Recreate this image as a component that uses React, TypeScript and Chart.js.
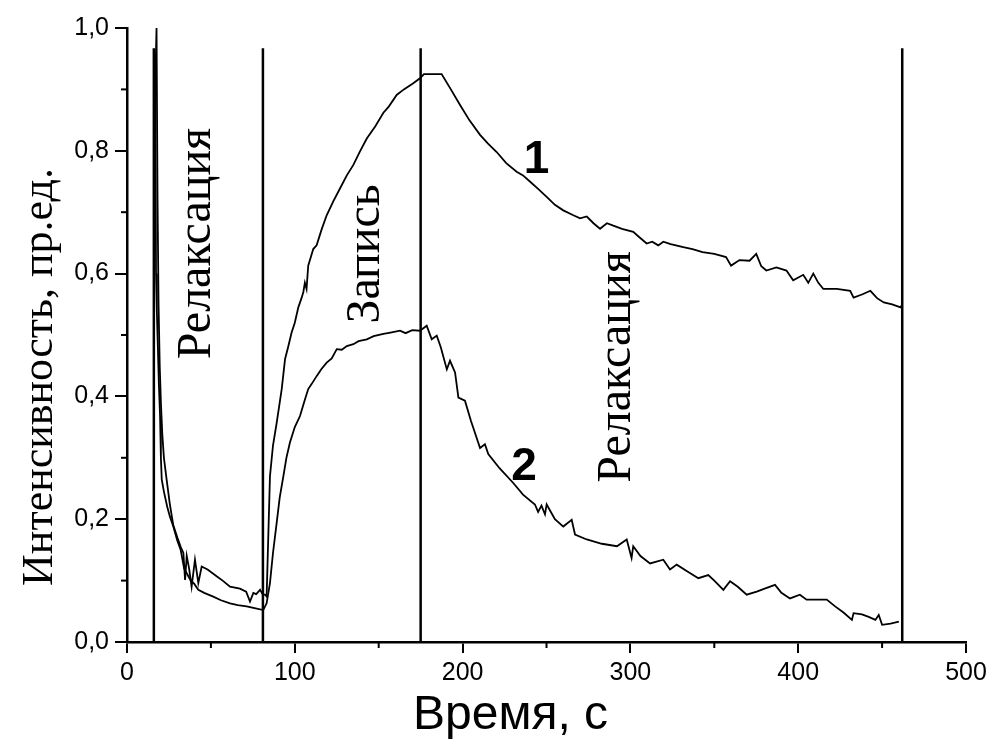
import React, { useEffect, useRef } from "react";
import { Chart, registerables } from "chart.js";

Chart.register(...registerables);

// Curve 1 (upper)
const curve1X = [17.0, 17.6, 18.2, 18.8, 19.5, 20.2, 21, 22, 23.6, 25.5, 27.6, 30, 32, 33.6, 34.6, 35.6, 37, 38.5, 40.5, 42.5, 44.5, 48, 53.4, 57, 61.4, 67.3, 71, 73.3, 75.3, 77, 79.3, 81, 82.2, 83.2, 85.2, 87, 89.2, 92.2, 94.2, 96, 98.1, 100, 102.1, 104, 105.1, 106, 107, 108, 111, 113, 116, 119, 123, 127, 131, 134.9, 139, 142.9, 148, 152.8, 156, 160.7, 165, 170.6, 174.6, 177, 187.5, 193, 198.4, 204, 210.4, 215, 220.3, 226, 232.2, 236, 240.1, 245, 250.1, 255, 260, 266, 270, 274, 278, 281.9, 286, 289.8, 295, 301.7, 305, 309.7, 313, 316.6, 319.6, 324, 331.5, 337, 343, 350, 357, 360, 365, 371, 375, 378, 381, 387, 393, 397, 403, 406, 409, 412, 415, 423, 431, 433, 438, 443, 447, 451, 456, 461, 462];
const curve1Y = [0.93, 1.0, 0.72, 0.55, 0.45, 0.39, 0.34, 0.3, 0.265, 0.225, 0.19, 0.17, 0.155, 0.145, 0.101, 0.14, 0.12, 0.09, 0.134, 0.096, 0.123, 0.118, 0.107, 0.1, 0.09, 0.087, 0.082, 0.066, 0.08, 0.078, 0.085, 0.077, 0.077, 0.074, 0.27, 0.32, 0.357, 0.412, 0.461, 0.48, 0.504, 0.52, 0.545, 0.56, 0.57, 0.585, 0.575, 0.613, 0.64, 0.646, 0.672, 0.695, 0.718, 0.739, 0.76, 0.777, 0.8, 0.82, 0.84, 0.862, 0.872, 0.891, 0.9, 0.91, 0.918, 0.925, 0.925, 0.9, 0.875, 0.85, 0.826, 0.812, 0.798, 0.78, 0.766, 0.76, 0.75, 0.738, 0.725, 0.712, 0.703, 0.695, 0.69, 0.693, 0.682, 0.673, 0.682, 0.678, 0.673, 0.668, 0.66, 0.649, 0.652, 0.646, 0.652, 0.648, 0.643, 0.64, 0.635, 0.632, 0.627, 0.613, 0.622, 0.621, 0.632, 0.612, 0.605, 0.61, 0.605, 0.589, 0.598, 0.585, 0.6, 0.585, 0.575, 0.575, 0.572, 0.561, 0.566, 0.572, 0.56, 0.553, 0.55, 0.545, 0.55];

// Curve 2 (lower)
const curve2X = [16.8, 17.3, 17.8, 18.4, 19.0, 19.7, 20.2, 20.7, 22, 24, 25.5, 27.6, 30, 32, 34, 36, 38, 40, 42.5, 46, 51.4, 56, 61.4, 66, 71.3, 76, 81.2, 83.2, 85.2, 87, 89.2, 91, 93.2, 95, 97.1, 100, 103.1, 105.5, 108, 110, 113, 116, 119, 122, 125, 128, 131, 134.9, 138, 142.9, 147, 152.8, 157, 162.7, 166, 170, 174.6, 178.6, 181.6, 184.6, 187, 190.6, 192.5, 195.5, 197.5, 201.4, 205, 210.4, 213.3, 215.3, 222, 230.2, 236, 243.1, 245, 247, 249.1, 250.1, 255, 260, 265, 267, 274, 283, 292, 297.8, 300.7, 301.7, 306, 311.7, 319.6, 323.6, 327.6, 334, 340.5, 346.4, 350, 355.4, 359.4, 364, 369.3, 375.3, 380, 386.2, 390, 395.1, 401, 405, 417, 422, 427, 432, 433, 438, 442, 446, 448, 450, 455, 460];
const curve2Y = [0.95, 0.6, 0.537, 0.48, 0.42, 0.368, 0.3, 0.265, 0.245, 0.22, 0.205, 0.188, 0.165, 0.15, 0.12, 0.11, 0.1, 0.095, 0.085, 0.08, 0.074, 0.068, 0.063, 0.06, 0.058, 0.055, 0.052, 0.063, 0.096, 0.145, 0.194, 0.235, 0.27, 0.3, 0.325, 0.35, 0.368, 0.39, 0.412, 0.42, 0.433, 0.445, 0.455, 0.462, 0.477, 0.476, 0.482, 0.485, 0.49, 0.493, 0.498, 0.502, 0.504, 0.507, 0.503, 0.508, 0.507, 0.515, 0.493, 0.499, 0.48, 0.444, 0.458, 0.439, 0.398, 0.393, 0.36, 0.316, 0.322, 0.306, 0.283, 0.259, 0.24, 0.224, 0.212, 0.222, 0.208, 0.224, 0.2, 0.188, 0.199, 0.175, 0.167, 0.16, 0.156, 0.167, 0.137, 0.156, 0.14, 0.128, 0.134, 0.118, 0.126, 0.115, 0.104, 0.109, 0.1, 0.085, 0.099, 0.09, 0.077, 0.082, 0.087, 0.093, 0.08, 0.071, 0.077, 0.069, 0.069, 0.058, 0.048, 0.036, 0.047, 0.045, 0.041, 0.036, 0.044, 0.028, 0.03, 0.033];

// Vertical markers (time of regime switches)
const markerX = [16, 81, 175, 462];
const markerTop = 0.967;

// Annotations
const regionLabels = ["Релаксация", "Запись", "Релаксация"];
const regionLabelX = [41.7, 142.4, 292];
const regionLabelY = [0.649, 0.632, 0.448];
const curveLabels = ["1", "2"];
const curveLabelX = [244, 236.6];
const curveLabelY = [0.784, 0.284];

const xTitle = "Время, с";
const yTitle = "Интенсивность, пр.ед.";

const xMajor = [0, 100, 200, 300, 400, 500];
const yMajor = [0, 0.2, 0.4, 0.6, 0.8, 1.0];
const xMinor = [50, 150, 250, 350, 450];
const yMinor = [0.1, 0.3, 0.5, 0.7, 0.9];

const toPts = (xs: number[], ys: number[]) => xs.map((x, i) => ({ x, y: ys[i] }));

const SERIF = '"Liberation Serif", "DejaVu Serif", serif';
const SANS = '"Liberation Sans", Arial, sans-serif';

const decorPlugin = {
  id: "decor",
  afterDraw(chart: any) {
    const ctx = chart.ctx;
    const xs = chart.scales.x;
    const ys = chart.scales.y;
    const area = chart.chartArea;
    ctx.save();
    ctx.strokeStyle = "#000";
    ctx.lineWidth = 2;
    // minor ticks
    xMinor.forEach((v) => {
      const px = xs.getPixelForValue(v);
      ctx.beginPath();
      ctx.moveTo(px, area.bottom);
      ctx.lineTo(px, area.bottom + 6);
      ctx.stroke();
    });
    yMinor.forEach((v) => {
      const py = ys.getPixelForValue(v);
      ctx.beginPath();
      ctx.moveTo(area.left, py);
      ctx.lineTo(area.left - 6, py);
      ctx.stroke();
    });
    ctx.fillStyle = "#000";
    ctx.textAlign = "center";
    ctx.textBaseline = "middle";
    // rotated region labels
    regionLabels.forEach((t, i) => {
      const px = xs.getPixelForValue(regionLabelX[i]);
      const py = ys.getPixelForValue(regionLabelY[i]);
      ctx.save();
      ctx.translate(px, py);
      ctx.rotate(-Math.PI / 2);
      ctx.font = `48px ${SERIF}`;
      ctx.fillText(t, 0, 0);
      ctx.restore();
    });
    // curve numbers
    curveLabels.forEach((t, i) => {
      const px = xs.getPixelForValue(curveLabelX[i]);
      const py = ys.getPixelForValue(curveLabelY[i]);
      ctx.font = `bold 46px ${SANS}`;
      ctx.fillText(t, px, py);
    });
    // axis titles
    ctx.font = `48px ${SANS}`;
    ctx.textAlign = "left";
    ctx.textBaseline = "alphabetic";
    ctx.fillText(xTitle, 413, 729);
    ctx.save();
    ctx.translate(40, (area.top + area.bottom) / 2 + 42);
    ctx.rotate(-Math.PI / 2);
    ctx.textAlign = "center";
    ctx.textBaseline = "middle";
    ctx.font = `44px ${SERIF}`;
    ctx.fillText(yTitle, 0, 0);
    ctx.restore();
    ctx.restore();
  },
};

export default function App() {
  const ref = useRef<HTMLCanvasElement | null>(null);
  useEffect(() => {
    if (!ref.current) return;
    const lineStyle = {
      borderColor: "#000",
      borderWidth: 1.8,
      pointRadius: 0,
      tension: 0,
      fill: false,
    };
    const markerSets = markerX.map((mx) => ({
      ...lineStyle,
      borderWidth: 2.5,
      data: [
        { x: mx, y: 0 },
        { x: mx, y: markerTop },
      ],
    }));
    const chart = new Chart(ref.current, {
      type: "line",
      data: {
        datasets: [
          ...markerSets,
          { ...lineStyle, data: toPts(curve1X, curve1Y) },
          { ...lineStyle, data: toPts(curve2X, curve2Y) },
        ],
      },
      options: {
        animation: false,
        responsive: false,
        layout: { padding: { top: 28, right: 26, left: 0, bottom: 0 } },
        plugins: { legend: { display: false }, tooltip: { enabled: false } },
        scales: {
          x: {
            type: "linear",
            min: 0,
            max: 500,
            afterBuildTicks: (s: any) => {
              s.ticks = xMajor.map((v) => ({ value: v }));
            },
            afterFit: (s: any) => {
              s.height = 97;
            },
            ticks: {
              color: "#000",
              font: { family: SANS, size: 25 },
              padding: 5,
              maxRotation: 0,
              callback: (v: any) => String(v),
            },
            grid: { drawOnChartArea: false, tickLength: 11, color: "#000", lineWidth: 2 },
            border: { color: "#000", width: 2.5 },
          },
          y: {
            type: "linear",
            min: 0,
            max: 1,
            afterBuildTicks: (s: any) => {
              s.ticks = yMajor.map((v) => ({ value: v }));
            },
            afterFit: (s: any) => {
              s.width = 127;
            },
            ticks: {
              color: "#000",
              font: { family: SANS, size: 25 },
              padding: 6,
              callback: (v: any) => Number(v).toFixed(1).replace(".", ","),
            },
            grid: { drawOnChartArea: false, tickLength: 12, color: "#000", lineWidth: 2 },
            border: { color: "#000", width: 2.5 },
          },
        },
      },
      plugins: [decorPlugin],
    } as any);
    return () => chart.destroy();
  }, []);
  return (
    <div style={{ position: "absolute", left: 0, top: 0, width: 992, height: 739, background: "#fff" }}>
      <canvas ref={ref} width={992} height={739} style={{ display: "block", width: 992, height: 739 }} />
    </div>
  );
}
